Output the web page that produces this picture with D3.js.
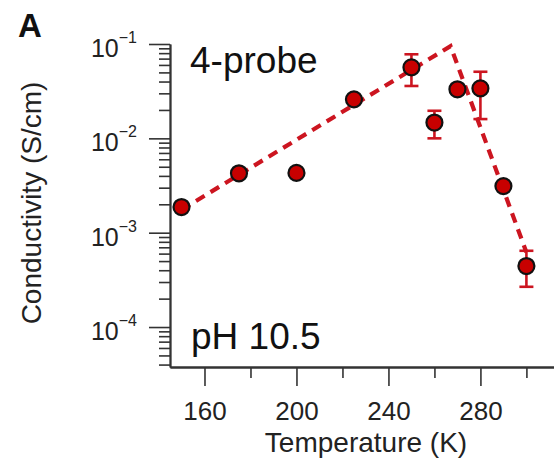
<!DOCTYPE html>
<html>
<head>
<meta charset="utf-8">
<script src="https://cdn.jsdelivr.net/npm/d3@7"></script>
<style>
  html, body { margin: 0; padding: 0; background: #fff; }
  svg { display: block; font-family: "Liberation Sans", Arial, Helvetica, sans-serif; }
</style>
</head>
<body>
<svg id="chart" width="554" height="462"></svg>
<script>
// ---- data ----
const temperatures = [150, 175, 200, 225, 250, 260, 270, 280, 290, 300];
const conductivity = [0.00187, 0.00426, 0.0043, 0.0259, 0.0566, 0.0147, 0.0331, 0.0339, 0.00312, 0.000443];
const errLow  = [null, null, null, null, 0.0359, 0.0100, 0.0300, 0.0160, null, 0.000267];
const errHigh = [null, null, null, null, 0.0778, 0.0196, 0.0370, 0.0508, null, 0.000643];
const fitT = [150, 267, 300];
const fitSigma = [0.00175, 0.095, 0.00062];
const xMajorTicks = [160, 200, 240, 280];
const xMinorTicks = [180, 220, 260, 300];
const yMajorExponents = [-1, -2, -3, -4];
const panelLabel = "A";
const topNote = "4-probe";
const bottomNote = "pH 10.5";
const xTitle = "Temperature (K)";
const yTitle = "Conductivity (S/cm)";

// ---- layout ----
const svg = d3.select("#chart");
const red = "#c80000";
const axisColor = "#333";

const x = d3.scaleLinear().domain([145, 312]).range([170, 554]);
const y = d3.scaleLog().domain([3.77e-5, 0.1]).range([367, 44]);

// minor y ticks
const yMinor = [];
for (let e = -5; e <= -2; e++) {
  for (let k = 2; k <= 9; k++) {
    const v = k * Math.pow(10, e);
    if (v >= y.domain()[0] && v <= y.domain()[1]) yMinor.push(v);
  }
}
const yMajor = yMajorExponents.map(e => Math.pow(10, e));

// Y axis
const gy = svg.append("g").attr("transform", "translate(170,0)");
gy.call(d3.axisLeft(y).tickValues(yMinor).tickSize(11).tickSizeOuter(0).tickFormat(""));
gy.append("g").call(d3.axisLeft(y).tickValues(yMajor).tickSize(21).tickSizeOuter(0).tickFormat(""));
gy.selectAll("path.domain").attr("stroke", axisColor).attr("stroke-width", 1.8);
gy.selectAll(".tick line").attr("stroke", axisColor).attr("stroke-width", 1.6);

// Y labels with superscripts
const ylab = svg.append("g");
yMajorExponents.forEach(e => {
  const yy = y(Math.pow(10, e));
  const t = ylab.append("text")
    .attr("x", 137).attr("y", yy + 13)
    .attr("text-anchor", "end")
    .attr("font-size", 25).attr("fill", "#222");
  t.append("tspan").text("10");
  t.append("tspan").attr("font-size", 16).attr("dy", -14).text("\u2212" + Math.abs(e));
});

// X axis
const gx = svg.append("g").attr("transform", "translate(0,367)");
gx.call(d3.axisBottom(x).tickValues(xMinorTicks).tickSize(11).tickSizeOuter(0).tickFormat(""));
const gxMaj = gx.append("g").call(d3.axisBottom(x).tickValues(xMajorTicks).tickSize(19).tickSizeOuter(0).tickPadding(16).tickFormat(d3.format("d")));
gx.selectAll("path.domain").attr("stroke", axisColor).attr("stroke-width", 1.8);
gx.selectAll(".tick line").attr("stroke", axisColor).attr("stroke-width", 1.6);
gxMaj.selectAll("text").attr("font-size", 26).attr("fill", "#222").attr("font-family", "Liberation Sans, Arial, sans-serif");

// axis titles
svg.append("text").attr("x", 366).attr("y", 452).attr("text-anchor", "middle")
  .attr("font-size", 28).attr("fill", "#222").text(xTitle);
svg.append("text").attr("transform", "translate(41,203) rotate(-90)").attr("text-anchor", "middle")
  .attr("font-size", 28).attr("fill", "#222").text(yTitle);

// panel label & notes
svg.append("text").attr("x", 18).attr("y", 37).attr("font-size", 33).attr("font-weight", "bold").attr("fill", "#111").text(panelLabel);
svg.append("text").attr("x", 190).attr("y", 73).attr("font-size", 37).attr("fill", "#111").text(topNote);
svg.append("text").attr("x", 191).attr("y", 349).attr("font-size", 37).attr("fill", "#111").text(bottomNote);

// fit line
const line = d3.line().x((d, i) => x(fitT[i])).y(d => y(d));
svg.append("path").datum(fitSigma).attr("d", line)
  .attr("fill", "none").attr("stroke", "#cc1520").attr("stroke-width", 4.2)
  .attr("stroke-dasharray", "10,7");

// error bars
const pts = temperatures.map((t, i) => ({ t, v: conductivity[i], lo: errLow[i], hi: errHigh[i] }));
const eb = svg.append("g").attr("stroke", "#cc1520").attr("stroke-width", 2.6).attr("fill", "none");
pts.filter(d => d.lo != null).forEach(d => {
  const cx = x(d.t);
  eb.append("line").attr("x1", cx).attr("x2", cx).attr("y1", y(d.lo)).attr("y2", y(d.hi));
  eb.append("line").attr("x1", cx - 7).attr("x2", cx + 7).attr("y1", y(d.lo)).attr("y2", y(d.lo));
  eb.append("line").attr("x1", cx - 7).attr("x2", cx + 7).attr("y1", y(d.hi)).attr("y2", y(d.hi));
});

// points
svg.append("g").selectAll("circle").data(pts).join("circle")
  .attr("cx", d => x(d.t)).attr("cy", d => y(d.v)).attr("r", 8)
  .attr("fill", red).attr("stroke", "#111").attr("stroke-width", 2.2);
</script>
</body>
</html>
